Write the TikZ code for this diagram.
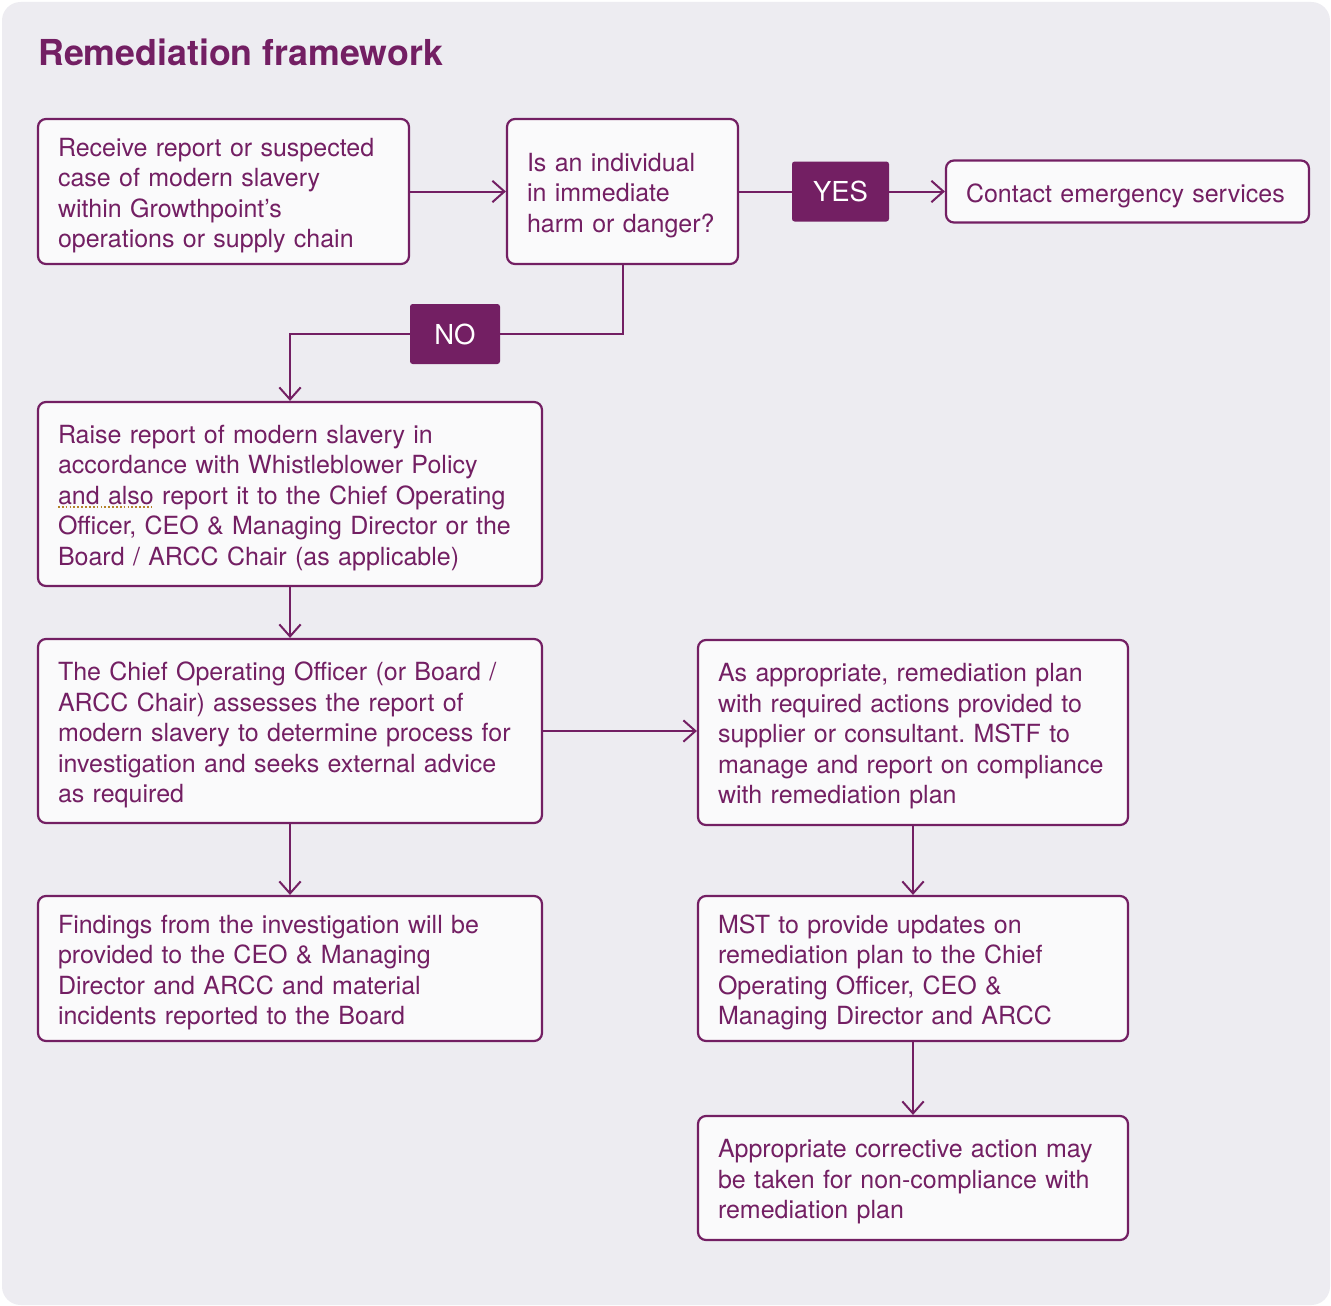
\documentclass[tikz,border=0pt]{standalone}
\usepackage{fontspec}
\setmainfont{TeX Gyre Heros}
\usetikzlibrary{arrows.meta}
\definecolor{pur}{HTML}{731F63}
\definecolor{panel}{HTML}{EDECF1}
\definecolor{boxfill}{HTML}{FAFAFB}
\definecolor{spell}{HTML}{B5832A}
\def\pxu{0.75pt}
\frenchspacing
\tikzset{
  box/.style={draw=pur, fill=boxfill, line width=1.65pt, rounded corners=6pt, inner sep=0pt},
  txt/.style={inner sep=0pt, align=left, text=pur, yshift=-3pt,
    font=\fontsize{18.75}{22.9}\selectfont},
  tag/.style={fill=pur, rounded corners=2pt, inner sep=0pt, text=white,
    font=\fontsize{20.6}{24}\selectfont},
  conn/.style={draw=pur, line width=1.5pt},
  arr/.style={conn, -{Straight Barb[length=9pt, width=16pt, line width=1.5pt]}},
}
\begin{document}
\begin{tikzpicture}[x=0.75pt, y=-0.75pt]
\fill[white] (0,0) rectangle (1331,1306);
\useasboundingbox (0,0) rectangle (1331,1306);
\fill[panel, rounded corners=14pt] (2,2) rectangle (1330,1305);

\node[anchor=base west, text=pur, inner sep=0pt, font=\fontsize{26.8}{32}\selectfont\bfseries] (title) at (38,65) {Remediation framework};

\node[box, minimum width=371*\pxu, minimum height=145*\pxu] (a) at (223.5,191.5) {};
\node[txt, text width=331*\pxu] (at) at (a.center)
  {Receive report or suspected\\case of modern slavery\\within Growthpoint’s\\operations or supply chain};
\node[box, minimum width=231*\pxu, minimum height=145*\pxu] (b) at (622.5,191.5) {};
\node[txt, text width=191*\pxu] (bt) at (b.center)
  {Is an individual\\in immediate\\harm or danger?};
\node[tag, minimum width=97*\pxu, minimum height=60*\pxu] (yes) at (840.5,191.5) {YES};
\node[box, minimum width=363*\pxu, minimum height=62*\pxu] (c) at (1127.5,191.5) {};
\node[txt, text width=323*\pxu] (ct) at (c.center) {Contact emergency services};
\node[tag, minimum width=90*\pxu, minimum height=60*\pxu] (no) at (455,334) {NO};
\node[box, minimum width=504*\pxu, minimum height=184*\pxu] (d) at (290,494) {};
\node[txt, text width=464*\pxu] (dt) at (d.center)
  {Raise report of modern slavery in\\accordance with Whistleblower Policy\\and also report it to the Chief Operating\\Officer, CEO \& Managing Director or the\\Board / ARCC Chair (as applicable)};
\node[box, minimum width=504*\pxu, minimum height=184*\pxu] (e) at (290,731) {};
\node[txt, text width=464*\pxu] (et) at (e.center)
  {The Chief Operating Officer (or Board /\\ARCC Chair) assesses the report of\\modern slavery to determine process for\\investigation and seeks external advice\\as required};
\node[box, minimum width=430*\pxu, minimum height=185*\pxu] (f) at (913,732.5) {};
\node[txt, text width=390*\pxu] (ft) at (f.center)
  {As appropriate, remediation plan\\with required actions provided to\\supplier or consultant. MSTF to\\manage and report on compliance\\with remediation plan};
\node[box, minimum width=504*\pxu, minimum height=145*\pxu] (g) at (290,968.5) {};
\node[txt, text width=464*\pxu] (gt) at (g.center)
  {Findings from the investigation will be\\provided to the CEO \& Managing\\Director and ARCC and material\\incidents reported to the Board};
\node[box, minimum width=430*\pxu, minimum height=145*\pxu] (h) at (913,968.5) {};
\node[txt, text width=390*\pxu] (ht) at (h.center)
  {MST to provide updates on\\remediation plan to the Chief\\Operating Officer, CEO \&\\Managing Director and ARCC};
\node[box, minimum width=430*\pxu, minimum height=124*\pxu] (i) at (913,1178) {};
\node[txt, text width=390*\pxu] (it) at (i.center)
  {Appropriate corrective action may\\be taken for non-compliance with\\remediation plan};

\draw[spell, line width=1.3pt, dash pattern=on 1.3pt off 1.6pt] (58,507) -- (152,507);

\draw[arr] (a) -- (b);
\draw[conn] (b) -- (yes);
\draw[arr] (yes) -- (c);
\draw[conn] (b.south) |- (no.east);
\draw[arr] (no.west) -| (d.north);
\draw[arr] (d) -- (e);
\draw[arr] (e.east) -- (e.east -| f.west);
\draw[arr] (e) -- (g);
\draw[arr] (f) -- (h);
\draw[arr] (h) -- (i);
\end{tikzpicture}
\end{document}
